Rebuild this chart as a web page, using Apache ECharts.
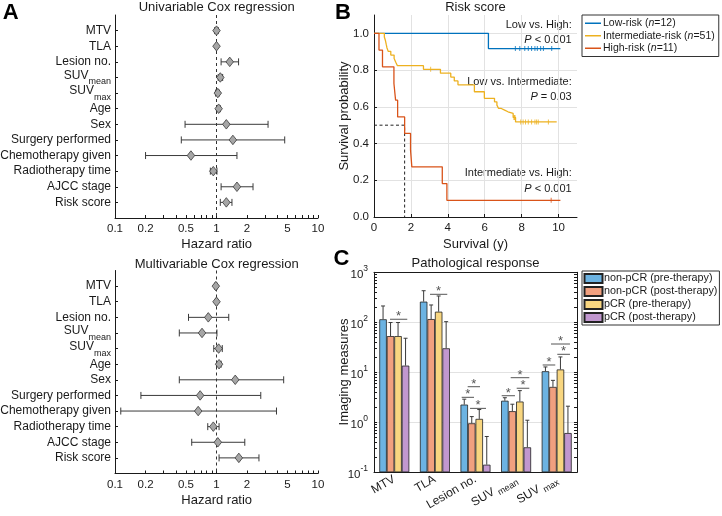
<!DOCTYPE html>
<html><head><meta charset="utf-8">
<script src="https://cdn.jsdelivr.net/npm/echarts@6.0.0/dist/echarts.min.js"></script>
<style>html,body{margin:0;padding:0;background:#fff}#c{width:722px;height:516px}</style>
</head><body><div id="c"></div>
<script>
const FONT = '"Liberation Sans", Arial, Helvetica, sans-serif';
const INK = '#1a1a1a';

// ---------- Panel A: Cox regression ----------
const coxVars = ['MTV','TLA','Lesion no.','SUVmean','SUVmax','Age','Sex','Surgery performed','Chemotherapy given','Radiotherapy time','AJCC stage','Risk score'];
const uniHR  = [1.00, 1.00, 1.35, 1.09, 1.03, 1.05, 1.25, 1.45, 0.56, 0.93, 1.59, 1.25];
const uniLo  = [0.96, 0.99, 1.11, 1.04, 0.98, 1.00, 0.49, 0.45, 0.20, 0.87, 1.11, 1.09];
const uniHi  = [1.04, 1.01, 1.65, 1.15, 1.06, 1.09, 3.22, 4.70, 1.59, 1.01, 2.29, 1.42];
const multiHR = [0.985, 1.00, 0.83, 0.72, 1.05, 1.06, 1.53, 0.69, 0.66, 0.93, 1.03, 1.66];
const multiLo = [0.96, 0.98, 0.53, 0.43, 0.94, 1.00, 0.43, 0.18, 0.114, 0.82, 0.57, 1.06];
const multiHi = [1.01, 1.02, 1.32, 1.01, 1.14, 1.11, 4.59, 2.73, 3.90, 1.06, 1.90, 2.62];
const hrRef = 1;
const hrLabelTicks = [0.1, 0.2, 0.5, 1, 2, 5, 10];
const hrAllTicks = [0.1,0.2,0.3,0.4,0.5,0.6,0.7,0.8,0.9,1,2,3,4,5,6,7,8,9,10];

// ---------- Panel B: Kaplan-Meier ----------
const kmNames = ['Low-risk', 'Intermediate-risk', 'High-risk'];
const kmN = [12, 51, 11];
const kmColors = ['#0072bd', '#edb120', '#d95319'];
const lowT = [0, 6.2, 10.1];
const lowS = [1, 0.917, 0.917];
const lowCensT = [7.66, 7.9, 8.17, 8.36, 8.54, 8.72, 8.85, 9.03, 9.18, 9.63];
const lowCensS = [0.917, 0.917, 0.917, 0.917, 0.917, 0.917, 0.917, 0.917, 0.917, 0.917];
const intT = [0, 0.56, 0.62, 0.66, 0.70, 0.77, 0.91, 1.09, 1.18, 1.27, 2.68, 3.6, 4.16, 4.35, 4.55, 5.44, 5.98, 6.53, 6.66, 6.75, 6.9, 7.08, 7.26, 7.54, 7.67, 9.9];
const intS = [1, 0.980, 0.961, 0.941, 0.922, 0.902, 0.882, 0.863, 0.843, 0.824, 0.804, 0.783, 0.762, 0.741, 0.720, 0.682, 0.646, 0.627, 0.609, 0.591, 0.582, 0.573, 0.564, 0.542, 0.518, 0.518];
const intCensT = [3.07, 7.58, 7.61, 7.64, 7.95, 8.08, 8.21, 8.36, 8.54, 8.72, 8.81, 8.9, 9.45];
const intCensS = [0.804, 0.542, 0.542, 0.542, 0.518, 0.518, 0.518, 0.518, 0.518, 0.518, 0.518, 0.518, 0.518];
const highT = [0, 0.27, 0.46, 1.08, 1.17, 1.28, 1.66, 1.98, 2.05, 3.7, 3.95, 10.1];
const highS = [1, 0.909, 0.818, 0.727, 0.636, 0.545, 0.455, 0.364, 0.273, 0.182, 0.091, 0.091];
const highCensT = [9.6];
const highCensS = [0.091];
const highMedianT = 1.66;
const medianS = 0.5;
const kmXTicks = [0, 2, 4, 6, 8, 10];
const kmYTicks = [0, 0.2, 0.4, 0.6, 0.8, 1.0];

// ---------- Panel C: pathological response ----------
const measures = ['MTV', 'TLA', 'Lesion no.', 'SUVmean', 'SUVmax'];
const groups = ['non-pCR (pre-therapy)', 'non-pCR (post-therapy)', 'pCR (pre-therapy)', 'pCR (post-therapy)'];
const groupColors = ['#6cb3e2', '#f1a07f', '#f8d680', '#c197cf'];
const nonPre     = [115, 259, 2.26, 2.7, 10.5];
const nonPreErr  = [212, 428, 2.9, 3.1, 12.8];
const nonPost    = [53, 116, 0.955, 1.67, 5.1];
const nonPostErr = [99, 222, 1.3, 2.3, 6.9];
const pcrPre     = [53, 163, 1.17, 2.6, 11.4];
const pcrPreErr  = [99, 336, 1.8, 4.3, 20.3];
const pcrPost    = [13.6, 30.2, 0.142, 0.316, 0.61];
const pcrPostErr = [48, 103, 0.52, 1.1, 2.1];
// significance brackets: category, from/to (in bar-width units from group centre), height
const sigCat  = [0, 1, 2, 2, 2, 3, 3, 3, 4, 4, 4];
const sigFrom = [-0.57, -0.65, -1.04, -1.84, -0.73, -1.92, -0.72, 0.08, -1.87, -0.76, 0.08];
const sigTo   = [1.73, 1.65, 0.60, -0.20, 1.40, -0.15, 1.76, 1.76, -0.19, 1.77, 1.77];
const sigY    = [115, 363, 5.15, 3.16, 1.9, 3.4, 7.8, 4.8, 14, 36.8, 22.9];
const measMajor = [0.1, 1, 10, 100, 1000];

const BAR_W = 7.5;
const measTicks = [];
measMajor.forEach((m, i) => { if (i < measMajor.length - 1) { for (let k = 1; k <= 9; k++) measTicks.push(+(m * k).toPrecision(3)); } else measTicks.push(m); });

const groupVals = [nonPre, nonPost, pcrPre, pcrPost];
const groupErrs = [nonPreErr, nonPostErr, pcrPreErr, pcrPostErr];

const chart = echarts.init(document.getElementById('c'), null, {renderer: 'canvas', width: 722, height: 516});

const coxIdx = coxVars.map((_, i) => i + 1);
function coxLabel(name) {
  if (name.indexOf('SUV') === 0) return '{m|SUV}{s|' + name.slice(3) + '}';
  return name;
}
function hrXAxis(gi) {
  return {type: 'log', logBase: 10, gridIndex: gi, min: 0.1, max: 10,
    axisLine: {show: true, onZero: false, lineStyle: {color: INK, width: 1}},
    axisTick: {show: true, inside: true, length: 3, customValues: hrAllTicks, lineStyle: {color: INK}},
    axisLabel: {show: true, customValues: hrLabelTicks, formatter: v => String(+(+v).toPrecision(3)), fontFamily: FONT, fontSize: 11.5, color: INK, margin: 5},
    splitLine: {show: false}, minorTick: {show: false}};
}
function coxYAxis(gi) {
  return {type: 'value', gridIndex: gi, min: 0, max: 13, inverse: true,
    axisLine: {show: true, onZero: false, lineStyle: {color: INK}},
    axisTick: {show: true, inside: true, length: 3, customValues: coxIdx, lineStyle: {color: INK}},
    axisLabel: {customValues: coxIdx, formatter: v => coxLabel(coxVars[Math.round(v) - 1]), fontFamily: FONT, fontSize: 12, color: INK, margin: 4,
      rich: {m: {fontFamily: FONT, fontSize: 12, color: INK, padding: [0, 0, 4, 0]}, s: {fontFamily: FONT, fontSize: 9, color: INK, padding: [9, 0, 0, 0]}}},
    splitLine: {show: false}};
}
function forestErr(params, api) {
  const idx = api.value(2);
  const a = api.coord([api.value(0), idx]);
  const b = api.coord([api.value(1), idx]);
  const h = 3.5, st = {stroke: '#3a3a3a', lineWidth: 1};
  return {type: 'group', children: [
    {type: 'line', shape: {x1: a[0], y1: a[1], x2: b[0], y2: b[1]}, style: st},
    {type: 'line', shape: {x1: a[0], y1: a[1] - h, x2: a[0], y2: a[1] + h}, style: st},
    {type: 'line', shape: {x1: b[0], y1: b[1] - h, x2: b[0], y2: b[1] + h}, style: st}
  ]};
}
function forestSeries(ai, hr, lo, hi) {
  return [
    {type: 'line', xAxisIndex: ai, yAxisIndex: ai, data: [[hrRef, 0], [hrRef, 13]], symbol: 'none', silent: true, z: 1,
      lineStyle: {color: '#333', width: 1, type: [3, 3]}},
    {type: 'custom', xAxisIndex: ai, yAxisIndex: ai, renderItem: forestErr, encode: {x: [0, 1], y: 2}, z: 2, silent: true,
      data: coxVars.map((_, i) => [lo[i], hi[i], i + 1])},
    {type: 'scatter', xAxisIndex: ai, yAxisIndex: ai, symbol: 'diamond', symbolSize: [7.5, 9.5], z: 3, silent: true,
      itemStyle: {color: '#a6a6a6', borderColor: '#3a3a3a', borderWidth: 0.8, opacity: 1},
      data: coxVars.map((_, i) => [hr[i], i + 1])}
  ];
}
function zip(a, b) { return a.map((v, i) => [v, b[i]]); }

const kmT = [lowT, intT, highT], kmS = [lowS, intS, highS];
const kmCT = [lowCensT, intCensT, highCensT], kmCS = [lowCensS, intCensS, highCensS];

const series = [];
series.push(...forestSeries(0, uniHR, uniLo, uniHi));
series.push(...forestSeries(1, multiHR, multiLo, multiHi));
// B gridlines
series.push({type: 'line', name: 'kmGrid', xAxisIndex: 2, yAxisIndex: 2, data: [], z: 0, silent: true,
  markLine: {silent: true, symbol: 'none', label: {show: false}, animation: false, z: 0,
    lineStyle: {color: '#e2e2e2', type: 'solid', width: 1},
    data: kmXTicks.filter(v => v > 0).map(v => ({xAxis: v})).concat(kmYTicks.filter(v => v > 0).map(v => ({yAxis: v})))}});
kmNames.forEach((n, k) => {
  series.push({type: 'line', name: n, xAxisIndex: 2, yAxisIndex: 2, step: 'end', symbol: 'none', showSymbol: false, z: 3,
    lineStyle: {color: kmColors[k], width: 1.3}, itemStyle: {color: kmColors[k]}, data: zip(kmT[k], kmS[k])});
  series.push({type: 'scatter', name: n + ' censored', xAxisIndex: 2, yAxisIndex: 2, symbol: 'rect', symbolSize: [1, 5], z: 4, silent: true,
    itemStyle: {color: kmColors[k]}, data: zip(kmCT[k], kmCS[k])});
});
series.push({type: 'line', name: 'median', xAxisIndex: 2, yAxisIndex: 2, symbol: 'none', z: 2, silent: true,
  lineStyle: {color: '#222', width: 1, type: [3, 2.5]},
  data: [[0, medianS], [highMedianT, medianS], [highMedianT, 0]]});
// C gridlines
series.push({type: 'line', name: 'barGrid', xAxisIndex: 3, yAxisIndex: 3, data: [], z: 0, silent: true,
  markLine: {silent: true, symbol: 'none', label: {show: false}, animation: false, z: 0,
    lineStyle: {color: '#e2e2e2', type: 'solid', width: 1},
    data: measMajor.slice(1, -1).map(v => ({yAxis: v}))}});
groups.forEach((g, k) => {
  series.push({type: 'bar', name: g, xAxisIndex: 3, yAxisIndex: 3, barWidth: BAR_W, barGap: '0%', z: 2,
    itemStyle: {color: groupColors[k], borderColor: '#222', borderWidth: 0.8}, data: groupVals[k]});
});
const errData = [];
groups.forEach((g, k) => measures.forEach((m, c) => errData.push([c, groupVals[k][c], groupErrs[k][c], k])));
series.push({type: 'custom', name: 'err', xAxisIndex: 3, yAxisIndex: 3, z: 3, silent: true, encode: {x: 0, y: [1, 2]},
  renderItem: (params, api) => {
    const c = api.coord([api.value(0), api.value(1)]);
    const e = api.coord([api.value(0), api.value(2)]);
    const x = c[0] + (api.value(3) - 1.5) * BAR_W;
    const st = {stroke: '#3a3a3a', lineWidth: 1};
    return {type: 'group', children: [
      {type: 'line', shape: {x1: x, y1: c[1], x2: x, y2: e[1]}, style: st},
      {type: 'line', shape: {x1: x - 2, y1: e[1], x2: x + 2, y2: e[1]}, style: st}
    ]};
  }, data: errData});
series.push({type: 'custom', name: 'sig', xAxisIndex: 3, yAxisIndex: 3, z: 4, silent: true, encode: {x: 0, y: 3},
  renderItem: (params, api) => {
    const p = api.coord([api.value(0), api.value(3)]);
    const x1 = p[0] + api.value(1) * BAR_W, x2 = p[0] + api.value(2) * BAR_W;
    return {type: 'group', children: [
      {type: 'line', shape: {x1: x1, y1: p[1], x2: x2, y2: p[1]}, style: {stroke: '#555', lineWidth: 1}},
      {type: 'text', x: (x1 + x2) / 2, y: p[1] - 2.5, style: {text: '*', fontFamily: FONT, fontSize: 13, fill: '#555', align: 'center', verticalAlign: 'middle'}}
    ]};
  }, data: sigCat.map((c, i) => [c, sigFrom[i], sigTo[i], sigY[i]])});

function measLabel(name) {
  if (name.indexOf('SUV') === 0) return 'SUV {s|' + name.slice(3) + '}';
  return name;
}
function pow10Label(v) {
  const e = Math.round(Math.log10(v));
  return '{b|10}{e|' + e + '}';
}

function txt(x, y, text, size, extra) {
  return Object.assign({type: 'text', x: x, y: y, silent: true,
    style: {text: text, fontFamily: FONT, fontSize: size, fill: INK, align: 'center', verticalAlign: 'middle'}}, extra || {});
}
function ptxt(x, y, text) {
  return {type: 'text', x: x, y: y, silent: true,
    style: {text: text, fontFamily: FONT, fontSize: 11, fill: INK, align: 'right', verticalAlign: 'middle',
      rich: {i: {fontFamily: FONT, fontSize: 11, fontStyle: 'italic', fill: INK}}}};
}
function letter(x, y, t) {
  return {type: 'text', x: x, y: y, silent: true,
    style: {text: t, fontFamily: FONT, fontSize: 22, fontWeight: 'bold', fill: '#000', align: 'center', verticalAlign: 'middle'}};
}

const option = {
  animation: false,
  backgroundColor: '#fff',
  textStyle: {fontFamily: FONT},
  grid: [
    {left: 115, top: 15, width: 203, height: 203, outerBoundsMode: 'none'},
    {left: 115, top: 270.5, width: 203, height: 203, outerBoundsMode: 'none'},
    {left: 374, top: 15, width: 203, height: 202, outerBoundsMode: 'none'},
    {left: 374, top: 272.3, width: 203, height: 200, outerBoundsMode: 'none'}
  ],
  xAxis: [
    hrXAxis(0), hrXAxis(1),
    {type: 'value', gridIndex: 2, min: 0, max: 11,
      axisLine: {show: true, onZero: false, lineStyle: {color: INK}},
      axisTick: {show: true, inside: true, length: 3, customValues: kmXTicks, lineStyle: {color: INK}},
      axisLabel: {customValues: kmXTicks, fontFamily: FONT, fontSize: 11.5, color: INK, margin: 5},
      splitLine: {show: false}},
    {type: 'category', gridIndex: 3, data: measures,
      axisLine: {show: true, onZero: false, lineStyle: {color: INK}},
      axisTick: {show: false},
      axisLabel: {interval: 0, rotate: 30, margin: 6, fontFamily: FONT, fontSize: 12, color: INK, formatter: measLabel,
        rich: {s: {fontFamily: FONT, fontSize: 9, color: INK, padding: [8, 0, 0, 0]}}},
      splitLine: {show: false}},
    {type: 'category', gridIndex: 3, data: measures, position: 'top',
      axisLine: {show: true, onZero: false, lineStyle: {color: INK}},
      axisTick: {show: false}, axisLabel: {show: false}, splitLine: {show: false}}
  ],
  yAxis: [
    coxYAxis(0), coxYAxis(1),
    {type: 'value', gridIndex: 2, min: 0, max: 1.1,
      axisLine: {show: true, onZero: false, lineStyle: {color: INK}},
      axisTick: {show: true, inside: true, length: 3, customValues: kmYTicks, lineStyle: {color: INK}},
      axisLabel: {customValues: kmYTicks, formatter: v => (+v).toFixed(1), fontFamily: FONT, fontSize: 11.5, color: INK, margin: 5},
      splitLine: {show: false}},
    {type: 'log', logBase: 10, gridIndex: 3, min: 0.1, max: 1000, startValue: 0.1,
      axisLine: {show: true, onZero: false, lineStyle: {color: INK}},
      axisTick: {show: true, inside: true, length: 3, customValues: measTicks, lineStyle: {color: INK}},
      axisLabel: {customValues: measMajor, formatter: pow10Label, margin: 6, color: INK,
        rich: {b: {fontFamily: FONT, fontSize: 11.5, color: INK, padding: [5, 0, 0, 0]},
               e: {fontFamily: FONT, fontSize: 8.5, color: INK, padding: [0, 0, 7, 0]}}},
      splitLine: {show: false}},
    {type: 'log', logBase: 10, gridIndex: 3, min: 0.1, max: 1000, position: 'right',
      axisLine: {show: true, onZero: false, lineStyle: {color: INK}},
      axisTick: {show: true, inside: true, length: 3, customValues: measTicks, lineStyle: {color: INK}},
      axisLabel: {show: false}, splitLine: {show: false}}
  ],
  legend: [
    {id: 'kmLegend', data: kmNames, orient: 'vertical', left: 582, top: 15, padding: [2, 4, 2, 3],
      itemWidth: 16, itemHeight: 1.5, icon: 'rect', itemGap: 0, borderColor: '#333', borderWidth: 1, backgroundColor: '#fff',
      selectedMode: false,
      textStyle: {fontFamily: FONT, fontSize: 10.5, color: INK, lineHeight: 12.5, padding: [0, 0, 0, -3],
        rich: {i: {fontFamily: FONT, fontSize: 10.5, fontStyle: 'italic', color: INK, lineHeight: 12.5}}},
      formatter: name => name + ' ({i|n}=' + kmN[kmNames.indexOf(name)] + ')'},
    {id: 'barLegend', data: groups, orient: 'vertical', left: 582, top: 271, padding: [1, 2, 1, 1.5],
      itemWidth: 18, itemHeight: 9, icon: 'rect', itemGap: 0, borderColor: '#333', borderWidth: 1, backgroundColor: '#fff',
      selectedMode: false,
      textStyle: {fontFamily: FONT, fontSize: 10.8, color: INK, lineHeight: 13, padding: [0, 0, 0, -3.5]}}
  ],
  graphic: [
    letter(10.8, 13, 'A'),
    letter(343, 13, 'B'),
    letter(341.5, 259, 'C'),
    txt(216.7, 7.5, 'Univariable Cox regression', 13),
    txt(216.7, 244, 'Hazard ratio', 13),
    txt(216.7, 264.5, 'Multivariable Cox regression', 13),
    txt(216.7, 500, 'Hazard ratio', 13),
    txt(475.5, 7.5, 'Risk score', 13),
    txt(475.5, 244, 'Survival (y)', 13),
    txt(344, 116, 'Survival probability', 13, {rotation: Math.PI / 2}),
    txt(475.5, 263.5, 'Pathological response', 13),
    txt(344, 372, 'Imaging measures', 13, {rotation: Math.PI / 2}),
    ptxt(571.7, 24.5, 'Low vs. High:'),
    ptxt(571.7, 39.5, '{i|P} < 0.001'),
    ptxt(571.7, 81.7, 'Low vs. Intermediate:'),
    ptxt(571.7, 96.5, '{i|P} = 0.03'),
    ptxt(571.7, 173.3, 'Intermediate vs. High:'),
    ptxt(571.7, 189.3, '{i|P} < 0.001')
  ],
  series: series
};
chart.setOption(option);
</script></body></html>
